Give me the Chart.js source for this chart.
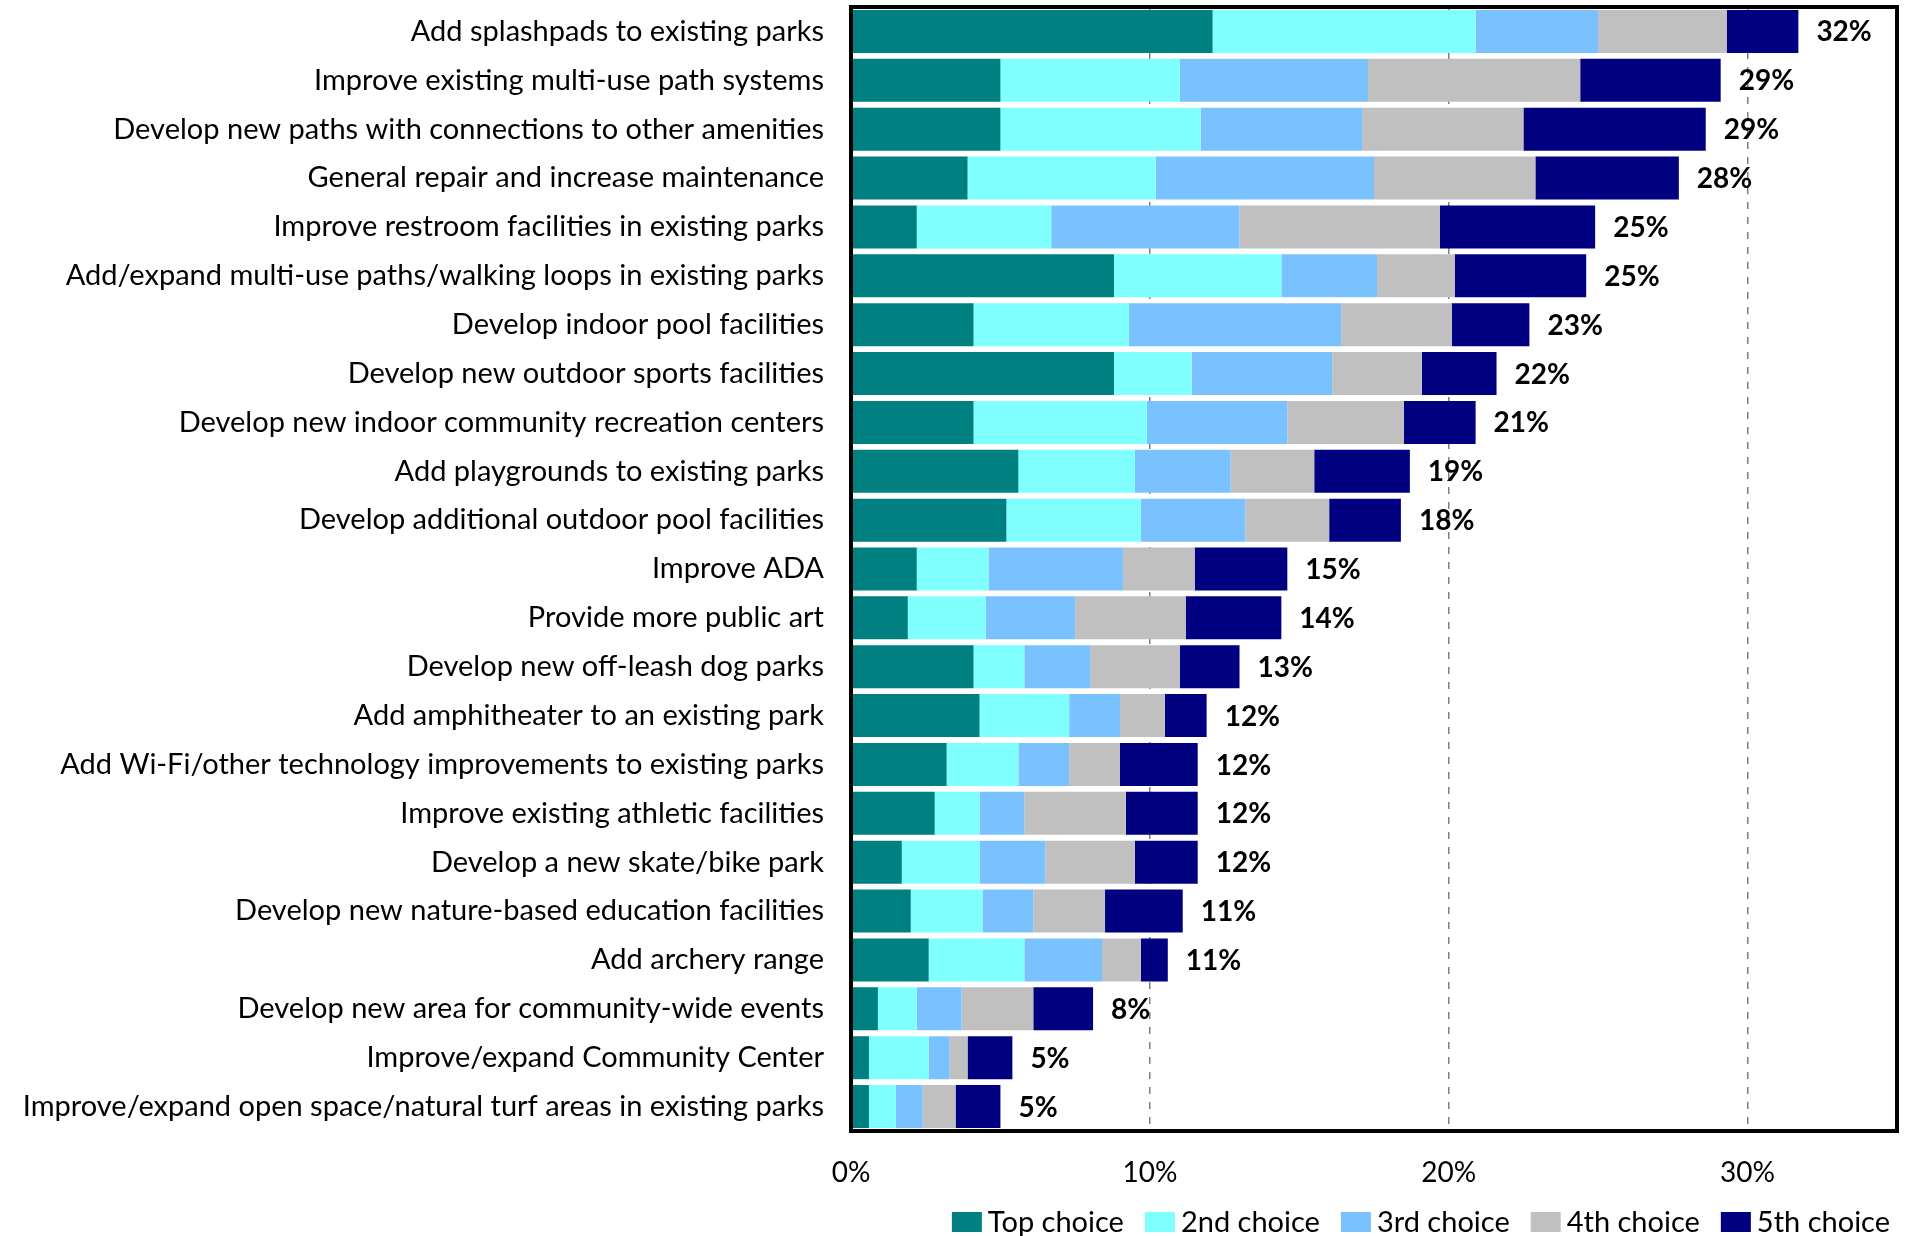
<!DOCTYPE html>
<html>
<head>
<meta charset="utf-8">
<title>Park improvement priorities</title>
<script src="https://cdn.jsdelivr.net/npm/chart.js"></script>
<style>
  body { margin: 0; background: #fff; }
  #wrap { width: 1908px; height: 1236px; }
</style>
</head>
<body>
<div id="wrap"><canvas id="priorityChart" width="1908" height="1236"></canvas></div>
<script>
let categories = [
  "Add splashpads to existing parks",
  "Improve existing multi-use path systems",
  "Develop new paths with connections to other amenities",
  "General repair and increase maintenance",
  "Improve restroom facilities in existing parks",
  "Add/expand multi-use paths/walking loops in existing parks",
  "Develop indoor pool facilities",
  "Develop new outdoor sports facilities",
  "Develop new indoor community recreation centers",
  "Add playgrounds to existing parks",
  "Develop additional outdoor pool facilities",
  "Improve ADA",
  "Provide more public art",
  "Develop new off-leash dog parks",
  "Add amphitheater to an existing park",
  "Add Wi-Fi/other technology improvements to existing parks",
  "Improve existing athletic facilities",
  "Develop a new skate/bike park",
  "Develop new nature-based education facilities",
  "Add archery range",
  "Develop new area for community-wide events",
  "Improve/expand Community Center",
  "Improve/expand open space/natural turf areas in existing parks"
];

let seriesNames = ["Top choice", "2nd choice", "3rd choice", "4th choice", "5th choice"];

let topChoice = [12.1, 5.0, 5.0, 3.9, 2.2, 8.8, 4.1, 8.8, 4.1, 5.6, 5.2, 2.2, 1.9, 4.1, 4.3, 3.2, 2.8, 1.7, 2.0, 2.6, 0.9, 0.6, 0.6];
let secondChoice = [8.8, 6.0, 6.7, 6.3, 4.5, 5.6, 5.2, 2.6, 5.8, 3.9, 4.5, 2.4, 2.6, 1.7, 3.0, 2.4, 1.5, 2.6, 2.4, 3.2, 1.3, 2.0, 0.9];
let thirdChoice = [4.1, 6.3, 5.4, 7.3, 6.3, 3.2, 7.1, 4.7, 4.7, 3.2, 3.5, 4.5, 3.0, 2.2, 1.7, 1.7, 1.5, 2.2, 1.7, 2.6, 1.5, 0.7, 0.9];
let fourthChoice = [4.3, 7.1, 5.4, 5.4, 6.7, 2.6, 3.7, 3.0, 3.9, 2.8, 2.8, 2.4, 3.7, 3.0, 1.5, 1.7, 3.4, 3.0, 2.4, 1.3, 2.4, 0.6, 1.1];
let fifthChoice = [2.4, 4.7, 6.1, 4.8, 5.2, 4.4, 2.6, 2.5, 2.4, 3.2, 2.4, 3.1, 3.2, 2.0, 1.4, 2.6, 2.4, 2.1, 2.6, 0.9, 2.0, 1.5, 1.5];

let xTicks = [0, 10, 20, 30];
let xMax = 35;

let seriesColors = ["#008080", "#80FFFF", "#7AC1FF", "#C0C0C0", "#000080"];
let fontFamily = "Lato, 'Open Sans', sans-serif";

let seriesValues = [topChoice, secondChoice, thirdChoice, fourthChoice, fifthChoice];

let datasets = [];
for (let i = 0; i < seriesNames.length; i++) {
  datasets.push({
    label: seriesNames[i],
    data: seriesValues[i],
    backgroundColor: seriesColors[i],
    borderWidth: 0,
    barPercentage: 0.88,
    categoryPercentage: 1
  });
}

// total of all five choices, printed at the end of each bar
function rowTotal(index) {
  let sum = 0;
  for (let s = 0; s < seriesValues.length; s++) {
    sum += seriesValues[s][index];
  }
  return sum;
}

let totalLabels = {
  id: "totalLabels",
  afterDatasetsDraw(chart) {
    let ctx = chart.ctx;
    let lastMeta = chart.getDatasetMeta(chart.data.datasets.length - 1);
    ctx.save();
    ctx.font = "bold 28px " + fontFamily;
    ctx.fillStyle = "#000";
    ctx.textAlign = "left";
    ctx.textBaseline = "middle";
    lastMeta.data.forEach((bar, i) => {
      ctx.fillText(Math.round(rowTotal(i)) + "%", bar.x + 18, bar.y + 1);
    });
    ctx.restore();
  }
};

// heavy black frame round the plot area
let plotFrame = {
  id: "plotFrame",
  afterDraw(chart) {
    let a = chart.chartArea;
    let ctx = chart.ctx;
    ctx.save();
    ctx.strokeStyle = "#000";
    ctx.lineWidth = 4;
    ctx.strokeRect(a.left, a.top, a.right - a.left, a.bottom - a.top);
    ctx.restore();
  }
};

// legend row under the axis, right aligned
let bottomLegend = {
  id: "bottomLegend",
  afterDraw(chart) {
    let ctx = chart.ctx;
    let boxW = 30, boxH = 20, textGap = 6, itemGap = 21;
    let rightEdge = 1890, centerY = 1222;
    ctx.save();
    ctx.font = "29px " + fontFamily;
    ctx.textBaseline = "middle";
    ctx.textAlign = "left";
    let widths = chart.data.datasets.map(d => ctx.measureText(d.label).width);
    let total = 0;
    widths.forEach(w => { total += boxW + textGap + w; });
    total += itemGap * (widths.length - 1);
    let x = rightEdge - total;
    chart.data.datasets.forEach((d, i) => {
      ctx.fillStyle = d.backgroundColor;
      ctx.fillRect(x, centerY - boxH / 2, boxW, boxH);
      ctx.fillStyle = "#000";
      ctx.fillText(d.label, x + boxW + textGap, centerY + 1);
      x += boxW + textGap + widths[i] + itemGap;
    });
    ctx.restore();
  }
};

let ctx = document.getElementById("priorityChart").getContext("2d");

new Chart(ctx, {
  type: "bar",
  data: {
    labels: categories,
    datasets: datasets
  },
  options: {
    indexAxis: "y",
    responsive: false,
    animation: false,
    layout: {
      padding: { top: 7, right: 11, left: 0, bottom: 0 }
    },
    scales: {
      x: {
        stacked: true,
        min: 0,
        max: xMax,
        afterBuildTicks: (scale) => {
          scale.ticks = xTicks.map(v => ({ value: v }));
        },
        ticks: {
          padding: 25,
          color: "#000",
          font: { family: fontFamily, size: 28 },
          callback: (value) => value + "%"
        },
        grid: {
          drawTicks: false,
          color: (c) => (c.tick && c.tick.value === 0 ? "rgba(0,0,0,0)" : "#7f7f7f"),
          lineWidth: 1.5
        },
        border: { display: false, dash: [7, 8] },
        afterFit: (scale) => {
          scale.height = 105;
          scale.paddingLeft = 0;
          scale.paddingRight = 0;
        }
      },
      y: {
        stacked: true,
        grid: { display: false },
        border: { display: false },
        ticks: {
          padding: 19,
          color: "#000",
          autoSkip: false,
          font: { family: fontFamily, size: 29 }
        },
        afterFit: (scale) => {
          scale.width = 851;
          scale.paddingTop = 0;
          scale.paddingBottom = 0;
        }
      }
    },
    plugins: {
      legend: { display: false },
      tooltip: { enabled: false }
    }
  },
  plugins: [totalLabels, plotFrame, bottomLegend]
});
</script>
</body>
</html>
